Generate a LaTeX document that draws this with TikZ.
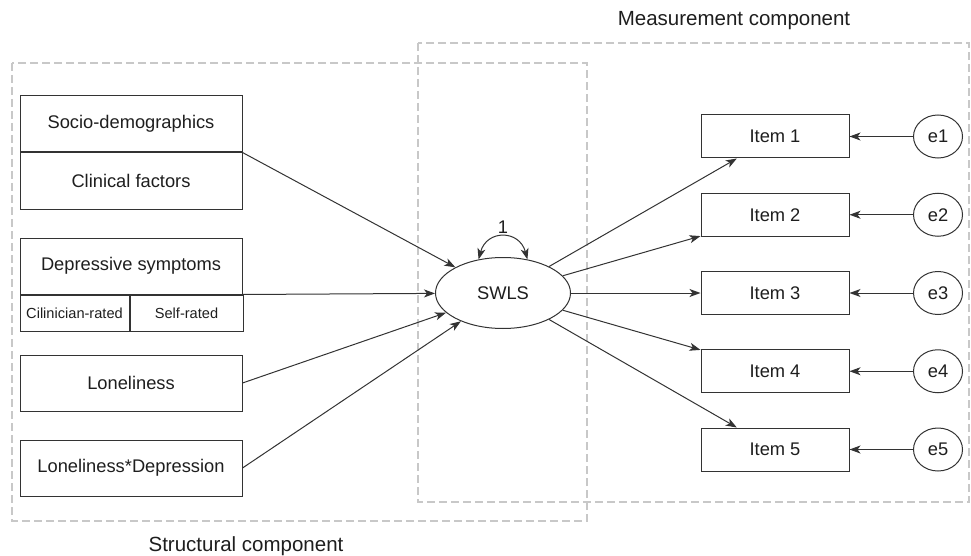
\documentclass[tikz,border=0pt]{standalone}
\usepackage{fontspec}
\setmainfont{Liberation Sans}
\usetikzlibrary{arrows.meta,shapes.geometric,positioning}
\definecolor{boxline}{HTML}{333333}
\definecolor{dashline}{HTML}{C8C8C8}
\definecolor{txt}{HTML}{1E1E1E}

\begin{document}
\begin{tikzpicture}[
    x=1pt, y=-1pt,
    >={Stealth[length=11pt,width=8pt,inset=3pt]},
    font=\fontsize{18.3}{22}\selectfont,
    every node/.style={text=txt},
    factor/.style={
		rectangle,
		draw=boxline,
		line width=1pt,
		minimum width=222pt,
		minimum height=56pt,
		inner sep=0pt
	},
    subfactor/.style={
		factor,
		minimum height=36pt,
		font=\fontsize{14.6}{17}\selectfont
	},
    item/.style={
		rectangle,
		draw=boxline,
		line width=1pt,
		minimum width=148pt,
		minimum height=43pt,
		inner sep=0pt
	},
    err/.style={
		ellipse,
		draw=boxline,
		line width=1pt,
		minimum width=49pt,
		minimum height=43pt,
		inner sep=0pt
	},
    latent/.style={
		ellipse,
		draw=boxline,
		line width=1pt,
		minimum width=135pt,
		minimum height=71pt,
		inner sep=0pt
	},
    region/.style={
		draw=dashline,
		line width=1.5pt,
		dash pattern=on 8pt off 4pt
	},
    compname/.style={
		font=\fontsize{20.5}{24}\selectfont
	},
    link/.style={
		->,
		draw=boxline,
		line width=1pt
	}
  ]
  \useasboundingbox (0,0) rectangle (971,556);

  % the two components
  \draw [region] (12,63) rectangle (587,521);
  \draw [region] (418,43) rectangle (969,502);
  \node [compname] (meascomp) at (734,20.5) {Measurement component};
  \node [compname] (strucomp) at (246,546.5) {Structural component};

  % predictor blocks
  \node [factor] (socio) at (131,124) {Socio-demographics};
  \node [factor, below=0pt of socio] (clin) {Clinical factors};

  \node [factor, below=28pt of clin] (depr) {Depressive symptoms};
  \node [subfactor, minimum width=109pt, below right=0pt of depr.south west] (clinrated) {Cilinician-rated};
  \node [subfactor, minimum width=113pt, right=0pt of clinrated] (selfrated) {Self-rated};

  \node [factor] (lone) at (131,383) {Loneliness};
  \node [factor, below=28pt of lone] (londep) {Loneliness*Depression};

  % latent variable
  \node [latent] (swls) at (503,293) {SWLS};
  \draw [link, <->] (swls.126) .. controls +(8,-30) and +(-8,-30) .. (swls.54)
    node [pos=0.5, above, inner sep=3pt] (var) {1};

  \draw [link] (clin.north east) -- (swls);
  \draw [link] (depr.south east) -- (swls);
  \draw [link] (lone.east) -- (swls);
  \draw [link] (londep.east) -- (swls);

  % items and their errors
  \foreach \i in {1,...,5}{
    \node [item] (item\i) at (775,{136.5+78.25*(\i-1)}) {Item \i};
    \node [err] (e\i) at (938,{136.5+78.25*(\i-1)}) {e\i};
    \draw [link] (e\i) -- (item\i);
    \draw [link] (swls) -- (item\i);
  }

\end{tikzpicture}
\end{document}
